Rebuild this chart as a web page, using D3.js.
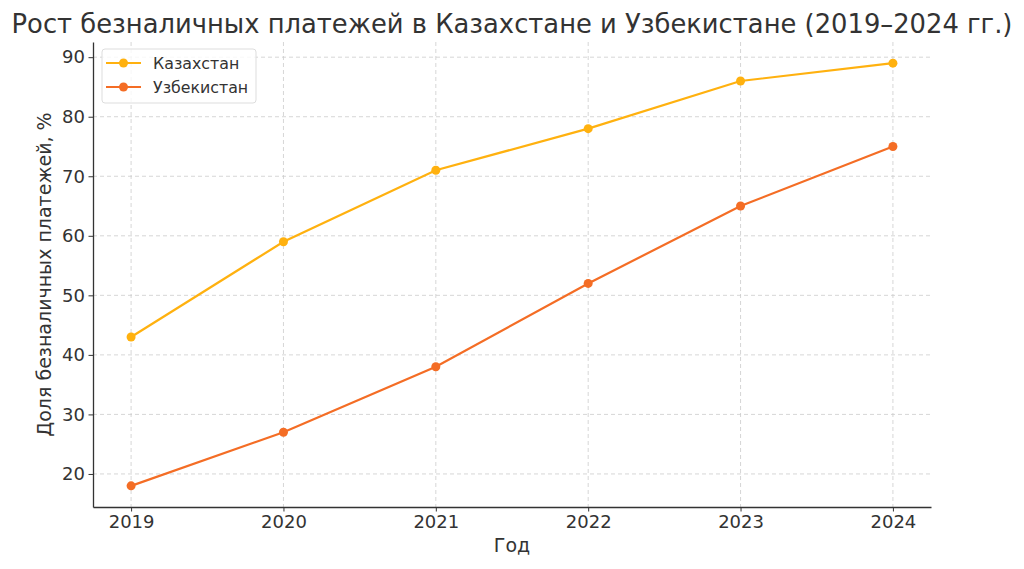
<!DOCTYPE html>
<html><head><meta charset="utf-8">
<script src="https://cdn.jsdelivr.net/npm/d3@7"></script>
<style>body{margin:0;background:#fff}text{font-family:"DejaVu Sans",sans-serif;fill:#333}</style>
</head><body>
<svg id="c" width="1024" height="569"></svg>
<script>
const years = [2019, 2020, 2021, 2022, 2023, 2024];
const kazakhstan = [43, 59, 71, 78, 86, 89];
const uzbekistan = [18, 27, 38, 52, 65, 75];
const yTicks = [20, 30, 40, 50, 60, 70, 80, 90];
const seriesNames = ["Казахстан", "Узбекистан"];
const colors = ["#FFB10F", "#F46D25"];

const svg = d3.select("#c");
const L = 93, R = 931, T = 42, B = 507;
const x = d3.scaleLinear().domain([2018.75, 2024.25]).range([L, R]);
const y = d3.scaleLinear().domain([14.45, 92.55]).range([B, T]);

// grid
const g = svg.append("g");
g.selectAll(".vx").data(years).enter().append("line")
  .attr("x1", d => x(d)).attr("x2", d => x(d)).attr("y1", T).attr("y2", B)
  .attr("stroke", "#ccc").attr("stroke-dasharray", "4,3").attr("stroke-width", 0.8);
g.selectAll(".hy").data(yTicks).enter().append("line")
  .attr("x1", L).attr("x2", R).attr("y1", d => y(d)).attr("y2", d => y(d))
  .attr("stroke", "#ccc").attr("stroke-dasharray", "4,3").attr("stroke-width", 0.8);

// axes
const xa = svg.append("g").attr("transform", `translate(0,${B})`)
  .call(d3.axisBottom(x).tickValues(years).tickFormat(d3.format("d")).tickSize(4.5).tickPadding(4).tickSizeOuter(0));
const ya = svg.append("g").attr("transform", `translate(${L},0)`)
  .call(d3.axisLeft(y).tickValues(yTicks).tickSize(4.5).tickPadding(3.5).tickSizeOuter(0));
[xa, ya].forEach(a => {
  a.select(".domain").attr("stroke", "#333").attr("stroke-width", 1.3);
  a.selectAll(".tick line").attr("stroke", "#333").attr("stroke-width", 1);
  a.selectAll(".tick text").attr("font-size", 18).style("fill", "#333");
});

// lines
const data = [kazakhstan, uzbekistan];
data.forEach((vals, i) => {
  const pts = years.map((yr, j) => [yr, vals[j]]);
  svg.append("path").datum(pts)
    .attr("d", d3.line().x(d => x(d[0])).y(d => y(d[1])))
    .attr("fill", "none").attr("stroke", colors[i]).attr("stroke-width", 2.2);
  svg.selectAll(".p" + i).data(pts).enter().append("circle")
    .attr("cx", d => x(d[0])).attr("cy", d => y(d[1])).attr("r", 4.5).attr("fill", colors[i]);
});

// legend
const lg = svg.append("g");
lg.append("rect").attr("x", 102).attr("y", 49).attr("width", 154).attr("height", 54).attr("rx", 3)
  .attr("fill", "#fff").attr("fill-opacity", 0.8).attr("stroke", "#ddd");
seriesNames.forEach((n, i) => {
  const yy = 63 + i * 24;
  lg.append("line").attr("x1", 106).attr("x2", 141).attr("y1", yy).attr("y2", yy).attr("stroke", colors[i]).attr("stroke-width", 2.2);
  lg.append("circle").attr("cx", 123.5).attr("cy", yy).attr("r", 4.5).attr("fill", colors[i]);
  lg.append("text").attr("x", 153).attr("y", yy + 5.5).attr("font-size", 15.8).text(n);
});

// titles
svg.append("text").attr("x", 512).attr("y", 33).attr("text-anchor", "middle").attr("font-size", 25.8)
  .text("Рост безналичных платежей в Казахстане и Узбекистане (2019–2024 гг.)");
svg.append("text").attr("x", x(2021.5)).attr("y", 552).attr("text-anchor", "middle").attr("font-size", 19).text("Год");
svg.append("text").attr("transform", `translate(51,${(T + B) / 2}) rotate(-90)`).attr("text-anchor", "middle")
  .attr("font-size", 19).text("Доля безналичных платежей, %");
</script>
</body></html>
